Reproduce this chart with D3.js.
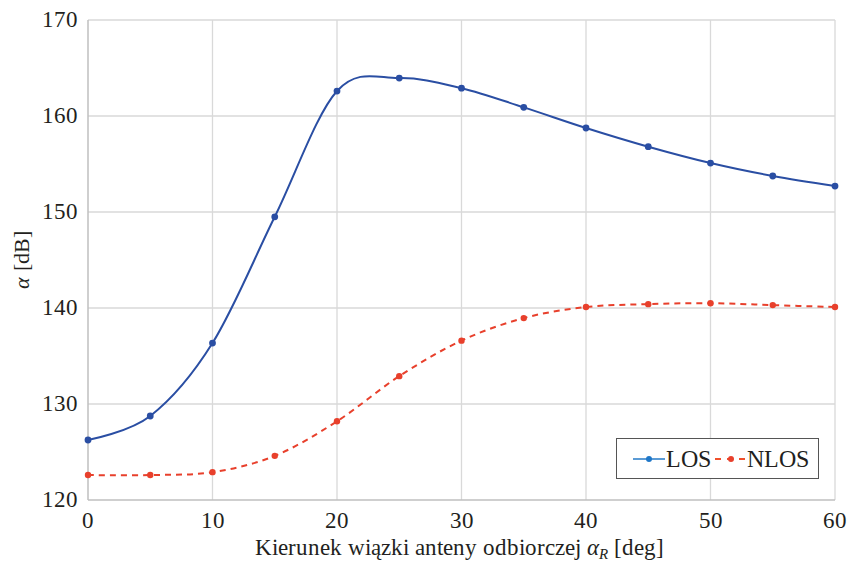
<!DOCTYPE html>
<html><head><meta charset="utf-8">
<script src="https://cdn.jsdelivr.net/npm/d3@7/dist/d3.min.js"></script>
<style>
@font-face{font-family:"ChartSerif";src:local("Liberation Serif"),local("LiberationSerif"),local("LiberationSerif-Regular");font-style:normal;}
@font-face{font-family:"ChartSerif";src:local("Liberation Serif Italic"),local("LiberationSerif-Italic");font-style:italic;}
body{margin:0;background:#fff;}
svg text{font-family:"ChartSerif","Liberation Serif",serif;}
</style></head><body>
<svg id="c" width="849" height="563"></svg>
<script>
const angles = [0,5,10,15,20,25,30,35,40,45,50,55,60];
const losValues = [126.25,128.75,136.35,149.5,162.6,163.95,162.9,160.9,158.75,156.8,155.1,153.75,152.7];
const nlosValues = [122.6,122.6,122.9,124.6,128.2,132.9,136.6,138.95,140.1,140.4,140.5,140.3,140.1];
const xTicks = [0,10,20,30,40,50,60];
const yTicks = [120,130,140,150,160,170];
const seriesNames = ["LOS","NLOS"];

const svg = d3.select("#c");
const m = {l:88, r:14, t:20, b:63};
const W = 849, H = 563;
const x = d3.scaleLinear().domain([0,60]).range([m.l, W-m.r]);
const y = d3.scaleLinear().domain([120,170]).range([H-m.b, m.t]);
const ink = "#231f20";

function txt(sel, size){
  return sel.attr("font-size",size).attr("fill",ink);
}

// grid
svg.append("g").selectAll("line").data(xTicks.slice(1)).join("line")
  .attr("x1",d=>x(d)).attr("x2",d=>x(d)).attr("y1",y(170)).attr("y2",y(120))
  .attr("stroke","#d9d9d9").attr("stroke-width",1.3);
svg.append("g").selectAll("line").data(yTicks.slice(1)).join("line")
  .attr("x1",x(0)).attr("x2",x(60)).attr("y1",d=>y(d)).attr("y2",d=>y(d))
  .attr("stroke","#d9d9d9").attr("stroke-width",1.3);
svg.append("line").attr("x1",x(0)).attr("x2",x(0)).attr("y1",y(170)).attr("y2",y(120))
  .attr("stroke","#bfbfbf").attr("stroke-width",1.5);
svg.append("line").attr("x1",x(0)).attr("x2",x(60)).attr("y1",y(120)).attr("y2",y(120))
  .attr("stroke","#bfbfbf").attr("stroke-width",1.5);

// tick labels
yTicks.forEach(d=>{
  txt(svg.append("text"),22.5).attr("x",x(0)-10).attr("y",y(d)+7).attr("text-anchor","end").text(d);
});
xTicks.forEach(d=>{
  txt(svg.append("text"),22.5).attr("x",x(d)).attr("y",y(120)+28).attr("text-anchor","middle").text(d);
});

// axis titles
const yl = txt(svg.append("text"),22)
  .attr("transform",`translate(29,${(y(170)+y(120))/2}) rotate(-90)`)
  .attr("text-anchor","middle");
yl.append("tspan").attr("font-style","italic").text("α");
yl.append("tspan").text(" [dB]");
const xl = txt(svg.append("text"),22.5)
  .attr("x",(x(0)+x(60))/2 - 2).attr("y",555).attr("text-anchor","middle");
xl.append("tspan").text("Kierunek wiązki anteny odbiorczej ");
xl.append("tspan").attr("font-style","italic").text("α");
xl.append("tspan").attr("font-style","italic").attr("font-size",15).attr("dy",4).text("R");
xl.append("tspan").attr("dy",-4).text(" [deg]");

const line = d3.line().x(d=>x(d[0])).y(d=>y(d[1])).curve(d3.curveCardinal.tension(0));
const los = angles.map((a,i)=>[a,losValues[i]]);
const nlos = angles.map((a,i)=>[a,nlosValues[i]]);

svg.append("path").datum(nlos).attr("d",line).attr("fill","none")
  .attr("stroke","#e8402c").attr("stroke-width",2).attr("stroke-dasharray","6,5");
svg.append("g").selectAll("circle").data(nlos).join("circle")
  .attr("cx",d=>x(d[0])).attr("cy",d=>y(d[1])).attr("r",3.2).attr("fill","#e8402c");

svg.append("path").datum(los).attr("d",line).attr("fill","none")
  .attr("stroke","#2a4ea3").attr("stroke-width",2);
svg.append("g").selectAll("circle").data(los).join("circle")
  .attr("cx",d=>x(d[0])).attr("cy",d=>y(d[1])).attr("r",3.4).attr("fill","#2a4ea3");

// legend
const lg = svg.append("g");
lg.append("rect").attr("x",616.5).attr("y",438.5).attr("width",202).attr("height",40)
  .attr("fill","#fff").attr("stroke","#555").attr("stroke-width",1);
lg.append("line").attr("x1",633).attr("x2",665).attr("y1",459).attr("y2",459).attr("stroke","#5b9bd5").attr("stroke-width",2);
lg.append("circle").attr("cx",649).attr("cy",459).attr("r",3).attr("fill","#1f77c8");
txt(lg.append("text"),24).attr("x",666).attr("y",467).text(seriesNames[0]);
lg.append("line").attr("x1",715).attr("x2",746).attr("y1",459).attr("y2",459).attr("stroke","#f0502c").attr("stroke-width",2).attr("stroke-dasharray","6,6");
lg.append("circle").attr("cx",731).attr("cy",459).attr("r",3).attr("fill","#e8402c");
txt(lg.append("text"),24).attr("x",747).attr("y",467).text(seriesNames[1]);
</script></body></html>
